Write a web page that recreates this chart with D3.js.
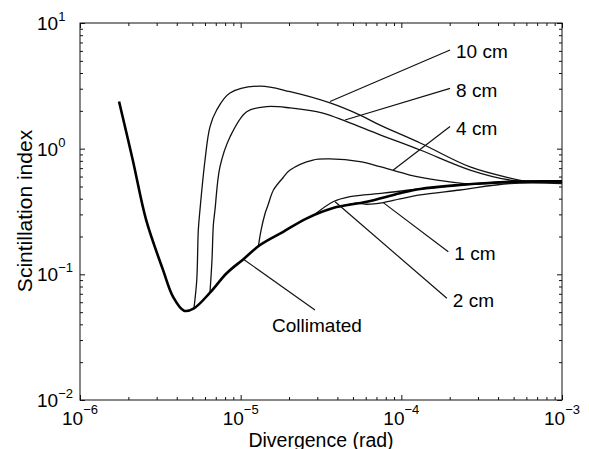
<!DOCTYPE html>
<html>
<head>
<meta charset="utf-8">
<script src="https://cdn.jsdelivr.net/npm/d3@7"></script>
<style>
    body { margin: 0; background: #fff; }
    svg { display: block; font-family: "Liberation Sans", Arial, sans-serif; }
</style>
</head>
<body>
<svg id="chart" width="589" height="449"></svg>
<script>
// axis ranges and tick exponents
const xDomain = [1e-6, 1e-3];
const yDomain = [1e-2, 1e1];
const xTickExp = [-6, -5, -4, -3];
const yTickExp = [-2, -1, 0, 1];

// curves: [divergence (rad), scintillation index]
const collimated = [
    [1.75e-6, 2.37], [2.13e-6, 0.813], [2.58e-6, 0.271],
    [3.29e-6, 0.108], [3.79e-6, 0.0664], [4.44e-6, 0.0514], [5.12e-6, 0.0537],
    [6.44e-6, 0.0714], [8.18e-6, 0.102], [1.04e-5, 0.132], [1.32e-5, 0.171],
    [1.84e-5, 0.218], [2.58e-5, 0.279], [3.76e-5, 0.337], [6.09e-5, 0.378],
    [9.81e-5, 0.442], [1.31e-4, 0.478], [2.32e-4, 0.514], [4.75e-4, 0.546],
    [1e-3, 0.55]
];
const tenCm = [
    [5.12e-6, 0.0537], [5.33e-6, 0.0902], [5.45e-6, 0.225], [5.58e-6, 0.325],
    [6.0e-6, 0.812], [6.44e-6, 1.49], [7.09e-6, 2.03], [8.58e-6, 2.77],
    [1.32e-5, 3.15], [2.03e-5, 2.84], [3.60e-5, 2.31], [5.53e-5, 1.85],
    [7.37e-5, 1.54], [1.31e-4, 1.11], [2.68e-4, 0.715], [4.75e-4, 0.584],
    [6.32e-4, 0.546], [1e-3, 0.54]
];
const eightCm = [
    [6.44e-6, 0.0714], [6.63e-6, 0.130], [6.76e-6, 0.247], [6.92e-6, 0.325],
    [7.43e-6, 0.715], [8.58e-6, 1.24], [1.09e-5, 1.97], [1.45e-5, 2.16],
    [2.03e-5, 2.11], [3.25e-5, 1.92], [4.57e-5, 1.64], [7.37e-5, 1.29],
    [1.31e-4, 0.976], [2.68e-4, 0.676], [4.75e-4, 0.563], [1e-3, 0.54]
];
const fourCm = [
    [1.29e-5, 0.168], [1.34e-5, 0.225], [1.42e-5, 0.306], [1.48e-5, 0.356],
    [1.60e-5, 0.469], [1.84e-5, 0.590], [2.03e-5, 0.676], [2.82e-5, 0.812],
    [3.60e-5, 0.828], [5.53e-5, 0.788], [7.37e-5, 0.719], [1.13e-4, 0.617],
    [1.67e-4, 0.563], [2.68e-4, 0.524], [4.75e-4, 0.538], [1e-3, 0.54]
];
const twoCm = [
    [2.82e-5, 0.292], [3.76e-5, 0.378], [4.79e-5, 0.415], [7.69e-5, 0.442],
    [1.13e-4, 0.469], [2.32e-4, 0.514], [4.75e-4, 0.548], [1e-3, 0.553]
];
const oneCm = [
    [4.15e-5, 0.347], [5.28e-5, 0.368], [6.09e-5, 0.361], [7.72e-5, 0.372],
    [9.81e-5, 0.398], [1.31e-4, 0.428], [2.32e-4, 0.469], [4.75e-4, 0.528],
    [1e-3, 0.528]
];

// leader lines: from a point on the curve to the label
const leaders = [
    { label: '10 cm', from: [3.60e-5, 2.37], to: [2.01e-4, 6.10] },
    { label: '8 cm', from: [4.46e-5, 1.69], to: [2.01e-4, 3.02] },
    { label: '4 cm', from: [8.91e-5, 0.676], to: [2.01e-4, 1.50] },
    { label: '1 cm', from: [7.72e-5, 0.372], to: [1.96e-4, 0.151] },
    { label: '2 cm', from: [3.87e-5, 0.378], to: [1.92e-4, 0.0645] },
    { label: 'Collimated', from: [1.04e-5, 0.132], to: [2.90e-5, 0.052] }
];

const margin = { top: 23, right: 27, bottom: 49, left: 80 },
    width = 589,
    height = 449;

const svg = d3.select('#chart');

const x = d3.scaleLog().domain(xDomain).range([margin.left, width - margin.right]);
const y = d3.scaleLog().domain(yDomain).range([height - margin.bottom, margin.top]);

const isPow = v => Math.abs(Math.log10(v) - Math.round(Math.log10(v))) < 1e-9;
const xMinor = x.ticks().filter(v => !isPow(v));
const yMinor = y.ticks().filter(v => !isPow(v));
const xMajor = xTickExp.map(e => Math.pow(10, e));
const yMajor = yTickExp.map(e => Math.pow(10, e));

/**
 *
 * draw inward ticks on one side of the box
 *
 * @param {Function} axisFn
 * @param {d3.Scale} scale
 * @param {string} transform
 */
const drawTicks = (axisFn, scale, transform) => {
    const g = svg.append('g').attr('transform', transform);
    g.append('g').call(axisFn(scale).tickValues(scale === x ? xMinor : yMinor).tickSize(-3).tickFormat(''));
    g.append('g').call(axisFn(scale).tickValues(scale === x ? xMajor : yMajor).tickSize(-5).tickFormat(''));
    g.selectAll('.domain').remove();
    g.selectAll('line').attr('stroke', '#111');
};

drawTicks(d3.axisBottom, x, `translate(0,${height - margin.bottom})`);
drawTicks(d3.axisTop, x, `translate(0,${margin.top})`);
drawTicks(d3.axisLeft, y, `translate(${margin.left},0)`);
drawTicks(d3.axisRight, y, `translate(${width - margin.right},0)`);

svg.append('rect')
    .attr('x', margin.left)
    .attr('y', margin.top)
    .attr('width', width - margin.left - margin.right)
    .attr('height', height - margin.top - margin.bottom)
    .attr('fill', 'none')
    .attr('stroke', '#111')
    .attr('stroke-width', 1);

const sup = e => (e < 0 ? '\u2212' + Math.abs(e) : String(e));

// x tick labels
xTickExp.forEach(e => {
    const t = svg.append('text')
        .attr('x', x(Math.pow(10, e)))
        .attr('y', 425)
        .attr('text-anchor', 'middle')
        .attr('font-size', 19);
    t.append('tspan').text('10');
    t.append('tspan').attr('font-size', 13).attr('dy', -11).text(sup(e));
});

// y tick labels
yTickExp.forEach(e => {
    const t = svg.append('text')
        .attr('x', 37)
        .attr('y', y(Math.pow(10, e)) + 7)
        .attr('font-size', 19);
    t.append('tspan').text('10');
    t.append('tspan').attr('font-size', 13).attr('dy', -9).text(sup(e));
});

svg.append('text')
    .attr('x', 321)
    .attr('y', 446.5)
    .attr('text-anchor', 'middle')
    .attr('font-size', 19.5)
    .text('Divergence (rad)');

svg.append('text')
    .attr('transform', 'translate(32,211) rotate(-90)')
    .attr('text-anchor', 'middle')
    .attr('font-size', 21)
    .text('Scintillation index');

const line = d3.line()
    .x(d => x(d[0]))
    .y(d => y(d[1]))
    .curve(d3.curveCatmullRom.alpha(0.5));

const plot = svg.append('g');

[tenCm, eightCm, fourCm, twoCm, oneCm].forEach(series => {
    plot.append('path')
        .attr('d', line(series))
        .attr('fill', 'none')
        .attr('stroke', '#111')
        .attr('stroke-width', 1.3);
});

plot.append('path')
    .attr('d', line(collimated))
    .attr('fill', 'none')
    .attr('stroke', '#000')
    .attr('stroke-width', 2.6)
    .attr('stroke-linejoin', 'round');

leaders.forEach(d => {
    svg.append('line')
        .attr('x1', x(d.from[0]))
        .attr('y1', y(d.from[1]))
        .attr('x2', x(d.to[0]))
        .attr('y2', y(d.to[1]))
        .attr('stroke', '#111')
        .attr('stroke-width', 1.2);

    const collim = d.label === 'Collimated';
    svg.append('text')
        .attr('x', x(d.to[0]) + (collim ? 2 : 6))
        .attr('y', y(d.to[1]) + (collim ? 22 : 8.5))
        .attr('text-anchor', collim ? 'middle' : 'start')
        .attr('font-size', 19)
        .text(d.label);
});
</script>
</body>
</html>
